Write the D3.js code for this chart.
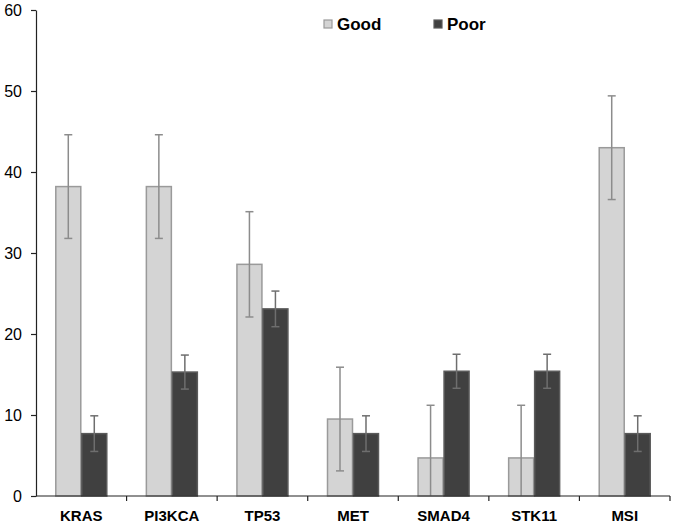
<!DOCTYPE html>
<html><head><meta charset="utf-8">
<script src="https://cdn.jsdelivr.net/npm/d3@7/dist/d3.min.js"></script>
<style>body{margin:0;background:#fff}svg{display:block}</style>
</head><body>
<script>
const categories = ["KRAS","PI3KCA","TP53","MET","SMAD4","STK11","MSI"];
const seriesNames = ["Good","Poor"];
const goodValues = [38.2, 38.2, 28.6, 9.5, 4.7, 4.7, 43.0];
const goodErrors = [6.4, 6.4, 6.5, 6.4, 6.5, 6.5, 6.4];
const poorValues = [7.7, 15.3, 23.1, 7.7, 15.4, 15.4, 7.7];
const poorErrors = [2.2, 2.1, 2.2, 2.2, 2.1, 2.1, 2.2];
const yTicks = [0,10,20,30,40,50,60];

const W = 675, H = 525;
const m = {left:36, right:5, top:10, bottom:29};
const svg = d3.select("body").append("svg").attr("width",W).attr("height",H);

const x = d3.scaleBand().domain(categories).range([m.left, W - m.right]).paddingInner(0.426).paddingOuter(0.213);
const xs = d3.scaleBand().domain(seriesNames).range([0, x.bandwidth()]);
const y = d3.scaleLinear().domain([0,60]).range([H - m.bottom, m.top]);

const fills = {Good:"#d4d4d4", Poor:"#404040"};
const strokes = {Good:"#9a9a9a", Poor:"#5a5a5a"};
const errCol = {Good:"#8c8c8c", Poor:"#6e6e6e"};

const rows = [];
categories.forEach((c,i)=>{
  rows.push({cat:c, s:"Good", v:goodValues[i], e:goodErrors[i]});
  rows.push({cat:c, s:"Poor", v:poorValues[i], e:poorErrors[i]});
});

svg.append("g").selectAll("rect").data(rows).join("rect")
  .attr("x", d=>x(d.cat)+xs(d.s)+0.5)
  .attr("width", xs.bandwidth()-1)
  .attr("y", d=>y(d.v))
  .attr("height", d=>y(0)-y(d.v))
  .attr("fill", d=>fills[d.s])
  .attr("stroke", d=>strokes[d.s])
  .attr("stroke-width",1.5);

const eg = svg.append("g");
rows.forEach(d=>{
  const cx = x(d.cat)+xs(d.s)+xs.bandwidth()/2;
  const hi = d.v + d.e, lo = Math.max(0, d.v - d.e);
  eg.append("line").attr("x1",cx).attr("x2",cx).attr("y1",y(hi)).attr("y2",y(lo))
    .attr("stroke",errCol[d.s]).attr("stroke-width",1.5);
  eg.append("line").attr("x1",cx-4).attr("x2",cx+4).attr("y1",y(hi)).attr("y2",y(hi))
    .attr("stroke",errCol[d.s]).attr("stroke-width",1.5);
  if (d.v - d.e > 0)
    eg.append("line").attr("x1",cx-4).attr("x2",cx+4).attr("y1",y(lo)).attr("y2",y(lo))
      .attr("stroke",errCol[d.s]).attr("stroke-width",1.5);
});

// Y axis
const ya = svg.append("g").attr("transform",`translate(${m.left},0)`)
  .call(d3.axisLeft(y).tickValues(yTicks).tickSize(5).tickSizeOuter(0).tickPadding(9));
ya.select(".domain").attr("stroke","#222").attr("stroke-width",1.2);
ya.selectAll(".tick line").attr("stroke","#222").attr("stroke-width",1.2);
ya.selectAll("text").attr("font-family","Arial, 'Liberation Sans', sans-serif").attr("font-size",16).attr("fill","#000");

// X axis
const xa = svg.append("g").attr("transform",`translate(0,${y(0)})`);
xa.append("line").attr("x1",m.left).attr("x2",W-m.right).attr("y1",0).attr("y2",0)
  .attr("stroke","#222").attr("stroke-width",1.2);
const bounds = d3.range(categories.length+1).map(i=> m.left + i*x.step());
xa.selectAll("line.tk").data(bounds.slice(1)).join("line").attr("class","tk")
  .attr("x1",d=>d).attr("x2",d=>d).attr("y1",0).attr("y2",5)
  .attr("stroke","#222").attr("stroke-width",1.2);
xa.selectAll("text").data(categories).join("text")
  .attr("x", d=>x(d)+x.bandwidth()/2).attr("y",25)
  .attr("text-anchor","middle")
  .attr("font-family","Arial, 'Liberation Sans', sans-serif").attr("font-weight","bold").attr("font-size",15)
  .attr("fill","#000").text(d=>d);

// Legend
const legX = [324, 434];
const lg = svg.append("g");
seriesNames.forEach((s,i)=>{
  lg.append("rect").attr("x",legX[i]).attr("y",20).attr("width",8).attr("height",8)
    .attr("fill",fills[s]).attr("stroke",strokes[s]).attr("stroke-width",1.2);
  lg.append("text").attr("x",legX[i]+13).attr("y",30)
    .attr("font-family","Arial, 'Liberation Sans', sans-serif").attr("font-weight","bold").attr("font-size",17)
    .attr("fill","#000").text(s);
});
</script>
</body></html>
